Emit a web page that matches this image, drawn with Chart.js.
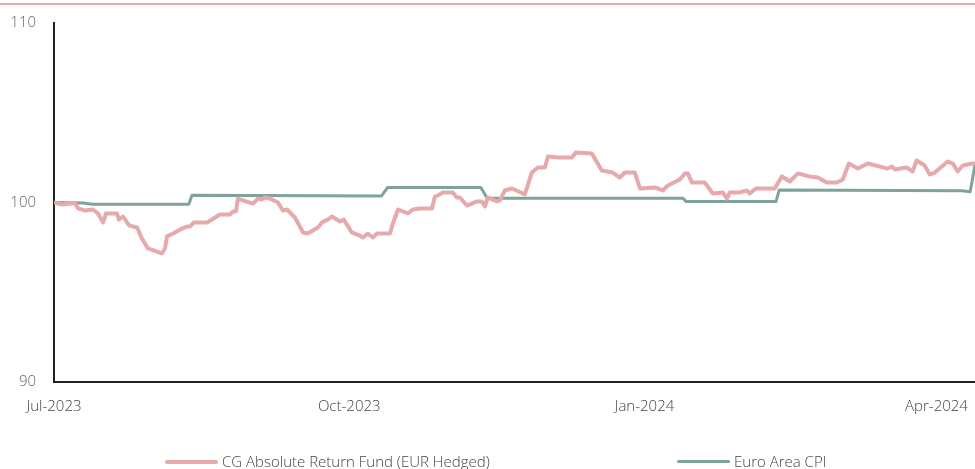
<!DOCTYPE html>
<html>
<head>
<meta charset="utf-8">
<script src="https://cdn.jsdelivr.net/npm/chart.js@4.4.1/dist/chart.umd.min.js"></script>
<style>
  body { margin: 0; background: #fff; overflow: hidden; font-family: "Open Sans", sans-serif; }
  #wrap { position: relative; width: 975px; height: 469px; }
  #topline { position: absolute; left: 0; top: 3px; width: 975px; height: 2px; background: #e6a9ac; }
  #cvs_chart { position: absolute; left: 0; top: 0; }
  .leg { position: absolute; top: 451px; font-size: 15px; font-weight: 300; color: #444; white-space: nowrap; line-height: 20px; }
  .leg span { display: inline-block; width: 53px; vertical-align: middle; margin-right: 4px; position: relative; top: -1px; }
</style>
</head>
<body>
<div id="wrap">
  <div id="topline"></div>
  <canvas id="cvs_chart" width="975" height="469"></canvas>
  <div class="leg" style="left:165px"><span style="height:4px;background:#e6a9ac;border-radius:2px"></span>CG Absolute Return Fund (EUR Hedged)</div>
  <div class="leg" style="left:677px"><span style="height:3px;background:#7ea39b;border-radius:2px"></span>Euro Area CPI</div>
</div>
<script>
// dias contados a partir de 01/07/2023
const tickDays = [0, 92, 184, 275];
const tickLabels = ["Jul-2023", "Oct-2023", "Jan-2024", "Apr-2024"];

// CG Absolute Return Fund (EUR Hedged)
const fundDays = [0, 2.5, 5, 6.5, 7.5, 9.7, 12.1, 13.7, 15.3, 16.2, 19.6, 20.2, 21.5, 23.4, 25.9, 27.4, 29.3, 33.6, 34.6, 35.2,
  37.1, 39.3, 41.4, 42.4, 43.6, 47.7, 51.7, 54.8, 55.8, 56.7, 57.3, 57.9, 62.0, 63.6, 64.8, 65.7, 67.3, 69.8, 71.3, 72.6,
  75.1, 77.6, 79.1, 82.2, 83.8, 85.4, 86.6, 89.1, 90.3, 92.8, 95.3, 96.3, 97.8, 99.4, 100.6, 104.7, 105.6, 107.2, 110.3, 111.8,
  114.0, 117.8, 118.7, 119.6, 121.2, 124.3, 125.5, 126.5, 128.7, 131.8, 133.3, 134.3, 135.2, 138.0, 138.9, 140.5, 142.7, 146.7, 148.9, 150.8,
  153.0, 153.9, 157.0, 161.4, 162.6, 167.6, 170.7, 174.1, 176.3, 177.9, 181.0, 182.6, 187.2, 189.7, 191.3, 195.0, 196.6, 197.5, 198.8, 202.8,
  205.3, 208.4, 209.7, 210.6, 213.7, 215.9, 216.8, 218.7, 224.6, 226.8, 229.3, 231.8, 235.5, 238.0, 240.8, 243.9, 245.8, 247.7, 250.5, 253.6,
  259.8, 261.1, 262.0, 265.7, 267.6, 268.8, 271.3, 272.9, 274.5, 278.5, 280.1, 281.6, 283.2, 286.0, 287.0];
const fundValues = [100.0, 99.89, 99.94, 99.97, 99.67, 99.55, 99.61, 99.39, 98.89, 99.39, 99.39, 99.05, 99.22, 98.72, 98.61, 97.99, 97.44, 97.16, 97.44, 98.11,
  98.27, 98.50, 98.66, 98.66, 98.89, 98.89, 99.33, 99.33, 99.50, 99.50, 100.22, 100.17, 99.94, 100.22, 100.17, 100.28, 100.22, 100.0, 99.55, 99.61,
  99.16, 98.33, 98.27, 98.61, 98.94, 99.05, 99.22, 98.94, 99.05, 98.33, 98.16, 98.05, 98.27, 98.05, 98.27, 98.27, 98.83, 99.61, 99.39, 99.61,
  99.67, 99.67, 100.33, 100.39, 100.56, 100.56, 100.28, 100.28, 99.83, 100.06, 100.06, 99.78, 100.28, 100.06, 100.11, 100.67, 100.78, 100.45, 101.67, 101.95,
  101.95, 102.56, 102.51, 102.51, 102.79, 102.73, 101.78, 101.67, 101.39, 101.67, 101.67, 100.78, 100.84, 100.67, 100.95, 101.28, 101.62, 101.62, 101.11, 101.11,
  100.50, 100.56, 100.22, 100.56, 100.56, 100.67, 100.50, 100.78, 100.78, 101.45, 101.17, 101.62, 101.45, 101.39, 101.11, 101.11, 101.28, 102.17, 101.89, 102.17,
  101.89, 102.01, 101.84, 101.95, 101.73, 102.34, 102.06, 101.56, 101.67, 102.28, 102.17, 101.73, 102.06, 102.17, 102.17];

// Euro Area CPI
const cpiDays = [0, 9, 12, 42, 43, 102, 104, 133, 135, 196, 197, 225, 226, 283, 285.5, 287];
const cpiValues = [100.0, 99.97, 99.9, 99.9, 100.4, 100.36, 100.84, 100.84, 100.24, 100.24, 100.05, 100.05, 100.7, 100.66, 100.6, 102.1];

function pares(dias, valores) {
  return dias.map(function (d, i) { return { x: d, y: valores[i] }; });
}

new Chart(document.getElementById("cvs_chart"), {
  type: "line",
  data: {
    datasets: [
      {
        label: "CG Absolute Return Fund (EUR Hedged)",
        data: pares(fundDays, fundValues),
        borderColor: "#e6a9ac",
        borderWidth: 4,
        borderJoinStyle: "round",
        pointRadius: 0,
        tension: 0,
      },
      {
        label: "Euro Area CPI",
        data: pares(cpiDays, cpiValues),
        borderColor: "#7ea39b",
        borderWidth: 3,
        borderJoinStyle: "round",
        pointRadius: 0,
        tension: 0,
      },
    ],
  },
  options: {
    responsive: false,
    animation: false,
    layout: { padding: { left: 0, right: 0, top: 23, bottom: 47 } },
    plugins: {
      legend: { display: false },
      tooltip: { enabled: false },
    },
    scales: {
      x: {
        type: "linear",
        min: 0,
        max: 287,
        grid: { display: false, drawTicks: false },
        border: { display: true, color: "#222", width: 2 },
        afterBuildTicks: function (scale) {
          scale.ticks = tickDays.map(function (d) { return { value: d }; });
        },
        afterFit: function (scale) {
          // sem folga extra: o eixo vai até a borda direita
          scale.height = 40;
          scale.paddingLeft = 0;
          scale.paddingRight = 0;
        },
        ticks: {
          padding: 16,
          maxRotation: 0,
          autoSkip: false,
          color: "#444",
          font: { family: "Open Sans", size: 15, weight: 300 },
          callback: function (value) {
            return tickLabels[tickDays.indexOf(value)];
          },
        },
      },
      y: {
        min: 90,
        max: 110,
        grid: { display: false, drawTicks: false },
        border: { display: true, color: "#222", width: 2 },
        afterFit: function (scale) {
          scale.width = 54;
          scale.paddingTop = 0;
          scale.paddingBottom = 0;
        },
        ticks: {
          stepSize: 10,
          padding: 18,
          color: "#666",
          font: { family: "Open Sans", size: 15, weight: 300 },
        },
      },
    },
  },
});
</script>
</body>
</html>
